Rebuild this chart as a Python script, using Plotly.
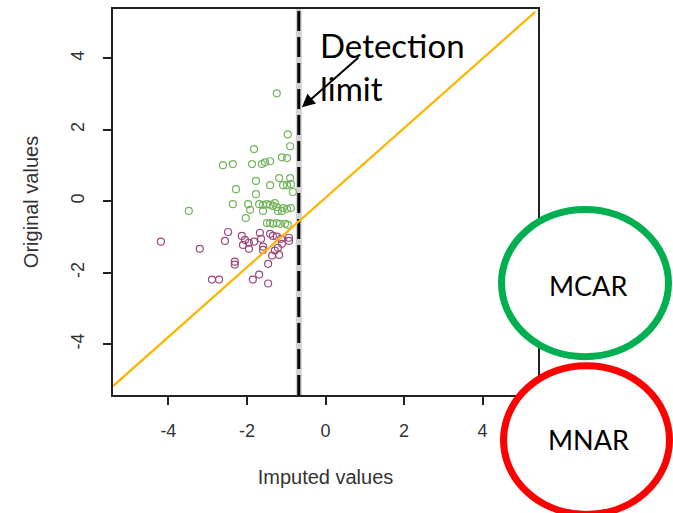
import plotly.graph_objects as go

# ---- data ----
green_x = [-1.24, -0.96, -0.90, -1.82, -2.61, -2.36, -1.87, -1.62, -1.54, -1.41, -1.11, -0.98,
           -1.77, -1.41, -1.18, -0.90, -1.08, -0.98, -0.88, -0.83, -2.28, -1.77, -2.36, -1.97,
           -1.92, -1.69, -1.59, -1.49, -1.41, -1.34, -1.24, -1.21, -1.11, -1.08, -0.98, -0.88,
           -1.59, -1.29, -1.49, -1.41, -1.34, -1.24, -1.16, -1.03, -0.96, -2.03, -3.48]
green_y = [3.02, 1.87, 1.54, 1.46, 1.01, 1.04, 1.04, 1.04, 1.09, 1.12, 1.23, 1.21,
           0.57, 0.45, 0.65, 0.65, 0.45, 0.45, 0.48, 0.26, 0.34, 0.20, -0.08, -0.08,
           -0.24, -0.08, -0.10, -0.08, -0.10, -0.13, -0.16, -0.27, -0.27, -0.19, -0.21, -0.19,
           -0.27, -0.05, -0.61, -0.61, -0.63, -0.61, -0.63, -0.63, -0.66, -0.47, -0.27]

mnar_x = [-2.48, -2.56, -4.19, -3.20, -2.13, -2.05, -2.10, -1.95, -1.82, -1.95, -1.67, -1.64,
          -1.59, -1.59, -1.41, -1.34, -1.24, -1.13, -1.11, -0.93, -0.93, -1.21, -1.29, -1.36,
          -1.18, -1.46, -2.31, -2.31, -1.69, -1.85, -1.46, -2.89, -2.71]
mnar_y = [-0.86, -1.11, -1.13, -1.33, -0.97, -1.08, -1.22, -1.16, -1.13, -1.33, -0.88, -1.05,
          -1.27, -1.36, -0.91, -0.97, -0.99, -1.05, -1.19, -1.02, -1.11, -1.30, -1.38, -1.52,
          -1.50, -1.75, -1.69, -1.77, -2.05, -2.19, -2.30, -2.19, -2.19]

detection_limit = -0.68
diag_x = [-5.41, 5.34]
diag_y = [-5.17, 5.30]
x_range = [-5.41, 5.41]
y_range = [-5.42, 5.38]
tick_vals = [-4, -2, 0, 2, 4]
tick_text = ["-4", "-2", "0", "2", "4"]

fig = go.Figure()

# detection limit: grey band + black dashed line
fig.add_trace(go.Scatter(x=[detection_limit, detection_limit], y=y_range, mode="lines",
                         line=dict(color="#d2d2d2", width=6), hoverinfo="skip", showlegend=False))
fig.add_trace(go.Scatter(x=[detection_limit, detection_limit], y=y_range, mode="lines",
                         line=dict(color="black", width=3, dash="20px,6px"),
                         hoverinfo="skip", showlegend=False))

fig.add_trace(go.Scatter(x=green_x, y=green_y, mode="markers", showlegend=False,
                         marker=dict(symbol="circle-open", size=7, color="#74b45c",
                                     line=dict(width=1.2))))
fig.add_trace(go.Scatter(x=mnar_x, y=mnar_y, mode="markers", showlegend=False,
                         marker=dict(symbol="circle-open", size=7, color="#9a4a7e",
                                     line=dict(width=1.2))))

fig.add_trace(go.Scatter(x=diag_x, y=diag_y, mode="lines", showlegend=False,
                         line=dict(color="#FFB400", width=2.2)))

axis_common = dict(showgrid=False, zeroline=False, showline=True, mirror=True,
                   linecolor="#222222", linewidth=1.6, ticks="outside", ticklen=8,
                   tickwidth=1.5, tickcolor="#222222", tickvals=tick_vals, ticktext=tick_text,
                   tickfont=dict(family="Liberation Sans, Arial", size=18, color="#333333"))

fig.update_xaxes(range=x_range, ticklabelstandoff=11,
                 title=dict(text="Imputed values", standoff=30,
                            font=dict(family="Liberation Sans, Arial", size=20, color="#333333")),
                 **axis_common)
fig.update_yaxes(range=y_range, tickangle=-90, ticklabelstandoff=12,
                 title=dict(text="Original values", standoff=24,
                            font=dict(family="Liberation Sans, Arial", size=20, color="#333333")),
                 **axis_common)

# Detection limit label + arrow
fig.add_annotation(x=detection_limit + 0.08, y=2.63, xref="x", yref="y", text="",
                   showarrow=True, ax=58, ay=-51, arrowhead=2, arrowsize=1.3,
                   arrowwidth=2, arrowcolor="black")
fig.add_annotation(x=(318 - 113) / 425, y=(395 - 21) / 388, xref="paper", yref="paper",
                   xanchor="left", yanchor="top", align="left", showarrow=False,
                   text="Detection<br>limit",
                   font=dict(family="Lato", size=33, color="black"))

# MCAR / MNAR ellipses
fig.add_shape(type="circle", xref="paper", yref="paper", layer="above",
              x0=(501.5 - 113) / 425, x1=(668.5 - 113) / 425,
              y0=(395 - 356.5) / 388, y1=(395 - 208.5) / 388,
              line=dict(color="#00B050", width=7), fillcolor="white")
fig.add_shape(type="circle", xref="paper", yref="paper", layer="above",
              x0=(503.5 - 113) / 425, x1=(669.5 - 113) / 425,
              y0=(395 - 515) / 388, y1=(395 - 365.5) / 388,
              line=dict(color="#FF0000", width=7), fillcolor="white")
fig.add_annotation(x=(588 - 113) / 425, y=(395 - 285) / 388, xref="paper", yref="paper",
                   xanchor="center", yanchor="middle",
                   text="MCAR", showarrow=False, font=dict(family="Lato", size=27, color="black"))
fig.add_annotation(x=(588 - 113) / 425, y=(395 - 440) / 388, xref="paper", yref="paper",
                   xanchor="center", yanchor="middle",
                   text="MNAR", showarrow=False, font=dict(family="Lato", size=27, color="black"))

fig.update_layout(width=673, height=513, margin=dict(l=113, r=135, t=7, b=118),
                  plot_bgcolor="white", paper_bgcolor="white", showlegend=False)

fig.write_html("out.html", config={"displayModeBar": False},
               post_script="document.body.style.margin='0';")
